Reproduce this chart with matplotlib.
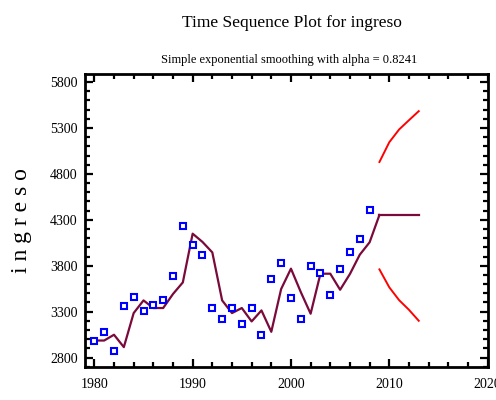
import matplotlib
matplotlib.use("Agg")
import matplotlib.pyplot as plt
from matplotlib.ticker import MultipleLocator

plt.rcParams['font.family'] = ['Liberation Serif', 'DejaVu Serif']

years = list(range(1980, 2009))
ingreso = [2985, 3077, 2873, 3364, 3455, 3309, 3375, 3426, 3684, 4237,
           4029, 3913, 3339, 3222, 3339, 3164, 3339, 3048, 3659, 3830,
           3451, 3219, 3800, 3716, 3481, 3768, 3945, 4087, 4408]

smooth_years = list(range(1980, 2010))
smoothed = [2985, 2985, 3048, 2913, 3284, 3422, 3339, 3339, 3492, 3618,
            4149, 4059, 3945, 3422, 3284, 3339, 3193, 3313, 3080, 3546,
            3768, 3513, 3277, 3713, 3713, 3538, 3710, 3920, 4055, 4353]

fc_years = [2009, 2010, 2011, 2012, 2013]
forecast = [4353, 4353, 4353, 4353, 4353]
upper = [4930, 5145, 5284, 5385, 5484]
lower = [3760, 3565, 3425, 3320, 3200]

fig = plt.figure(figsize=(4.96, 4.0), dpi=100)
ax = fig.add_axes([0.1704, 0.0833, 0.8126, 0.732])

ax.plot(smooth_years, smoothed, color='#7a0a3c', lw=1.6, zorder=2)
ax.plot(fc_years, forecast, color='#7a0a3c', lw=1.6, zorder=2)
ax.plot(fc_years, upper, color='#ff0000', lw=1.4, zorder=2)
ax.plot(fc_years, lower, color='#ff0000', lw=1.4, zorder=2)
ax.plot(years, ingreso, linestyle='none', marker='s', markersize=3.8,
        markerfacecolor='white', markeredgecolor='#0000ff', markeredgewidth=1.5, zorder=3)

ax.set_xlim(1979, 2020)
ax.set_ylim(2700, 5890)
ax.xaxis.set_major_locator(MultipleLocator(10))
ax.xaxis.set_minor_locator(MultipleLocator(2))
ax.yaxis.set_minor_locator(MultipleLocator(100))
ax.set_yticks([2800, 3300, 3800, 4300, 4800, 5300, 5800])

for s in ax.spines.values():
    s.set_linewidth(2.0)
ax.tick_params(which='both', direction='in', top=True, right=True, width=1.6, labelsize=10)
ax.tick_params(which='major', length=6)
ax.tick_params(which='minor', length=3.5)
ax.tick_params(axis='x', pad=8)
ax.tick_params(axis='y', pad=5)

ax.set_ylabel('i n g r e s o', fontsize=17, labelpad=13)
fig.text(0.588, 0.943, 'Time Sequence Plot for ingreso', ha='center', va='center', fontsize=12.5)
fig.text(0.583, 0.851, 'Simple exponential smoothing with alpha = 0.8241', ha='center', va='center', fontsize=9)

fig.savefig('out.png', dpi=100)
